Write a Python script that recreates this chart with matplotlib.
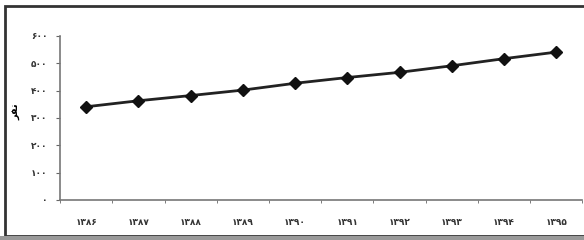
import numpy as np
import matplotlib.pyplot as plt
from matplotlib.patches import Rectangle

plt.rcParams['font.family'] = ['DejaVu Sans']

years = ['۱۳۸۶', '۱۳۸۷', '۱۳۸۸', '۱۳۸۹', '۱۳۹۰', '۱۳۹۱', '۱۳۹۲', '۱۳۹۳', '۱۳۹۴', '۱۳۹۵']
values = [341, 363, 382, 402, 427, 448, 467, 491, 517, 541]
yticks = [0, 100, 200, 300, 400, 500, 600]
ytick_labels = ['۰', '۱۰۰', '۲۰۰', '۳۰۰', '۴۰۰', '۵۰۰', '۶۰۰']

fig = plt.figure(figsize=(5.84, 2.4), dpi=100)
ax = fig.add_axes([0.103, 0.167, 0.894, 0.683])

x = np.arange(len(years))
ax.plot(x, values, color='#222222', lw=2, marker='D', markersize=6,
        markerfacecolor='#111111', markeredgecolor='#111111')

ax.set_xlim(-0.5, len(years) - 0.5)
ax.set_ylim(0, 600)
ax.set_yticks(yticks)
ax.set_yticklabels(ytick_labels, fontsize=6.5, fontweight='bold', color='#333333')
ax.set_xticks(x)
ax.set_xticklabels(years, fontsize=6.5, fontweight='bold', color='#333333')
ax.set_xticks(np.arange(len(years) + 1) - 0.5, minor=True)
ax.tick_params(axis='x', which='major', length=0, pad=13)
ax.tick_params(axis='x', which='minor', length=2, color='#666666')
ax.tick_params(axis='y', length=3, color='#666666', pad=6)

for s in ['top', 'right']:
    ax.spines[s].set_visible(False)
for s in ['left', 'bottom']:
    ax.spines[s].set_color('#777777')
    ax.spines[s].set_linewidth(1.2)

ax.set_ylabel('ﺮﻔﻧ', fontsize=7, fontweight='bold')
ax.yaxis.set_label_coords(-0.075, 0.54)

# scan frame
fig.add_artist(Rectangle((0.008, 0.015), 1.1, 0.962, transform=fig.transFigure,
                         fill=False, edgecolor='#333333', lw=2))
fig.add_artist(Rectangle((0, 0), 1, 0.015, transform=fig.transFigure,
                         color='#999999', lw=0))

fig.savefig('out.png', dpi=100)
